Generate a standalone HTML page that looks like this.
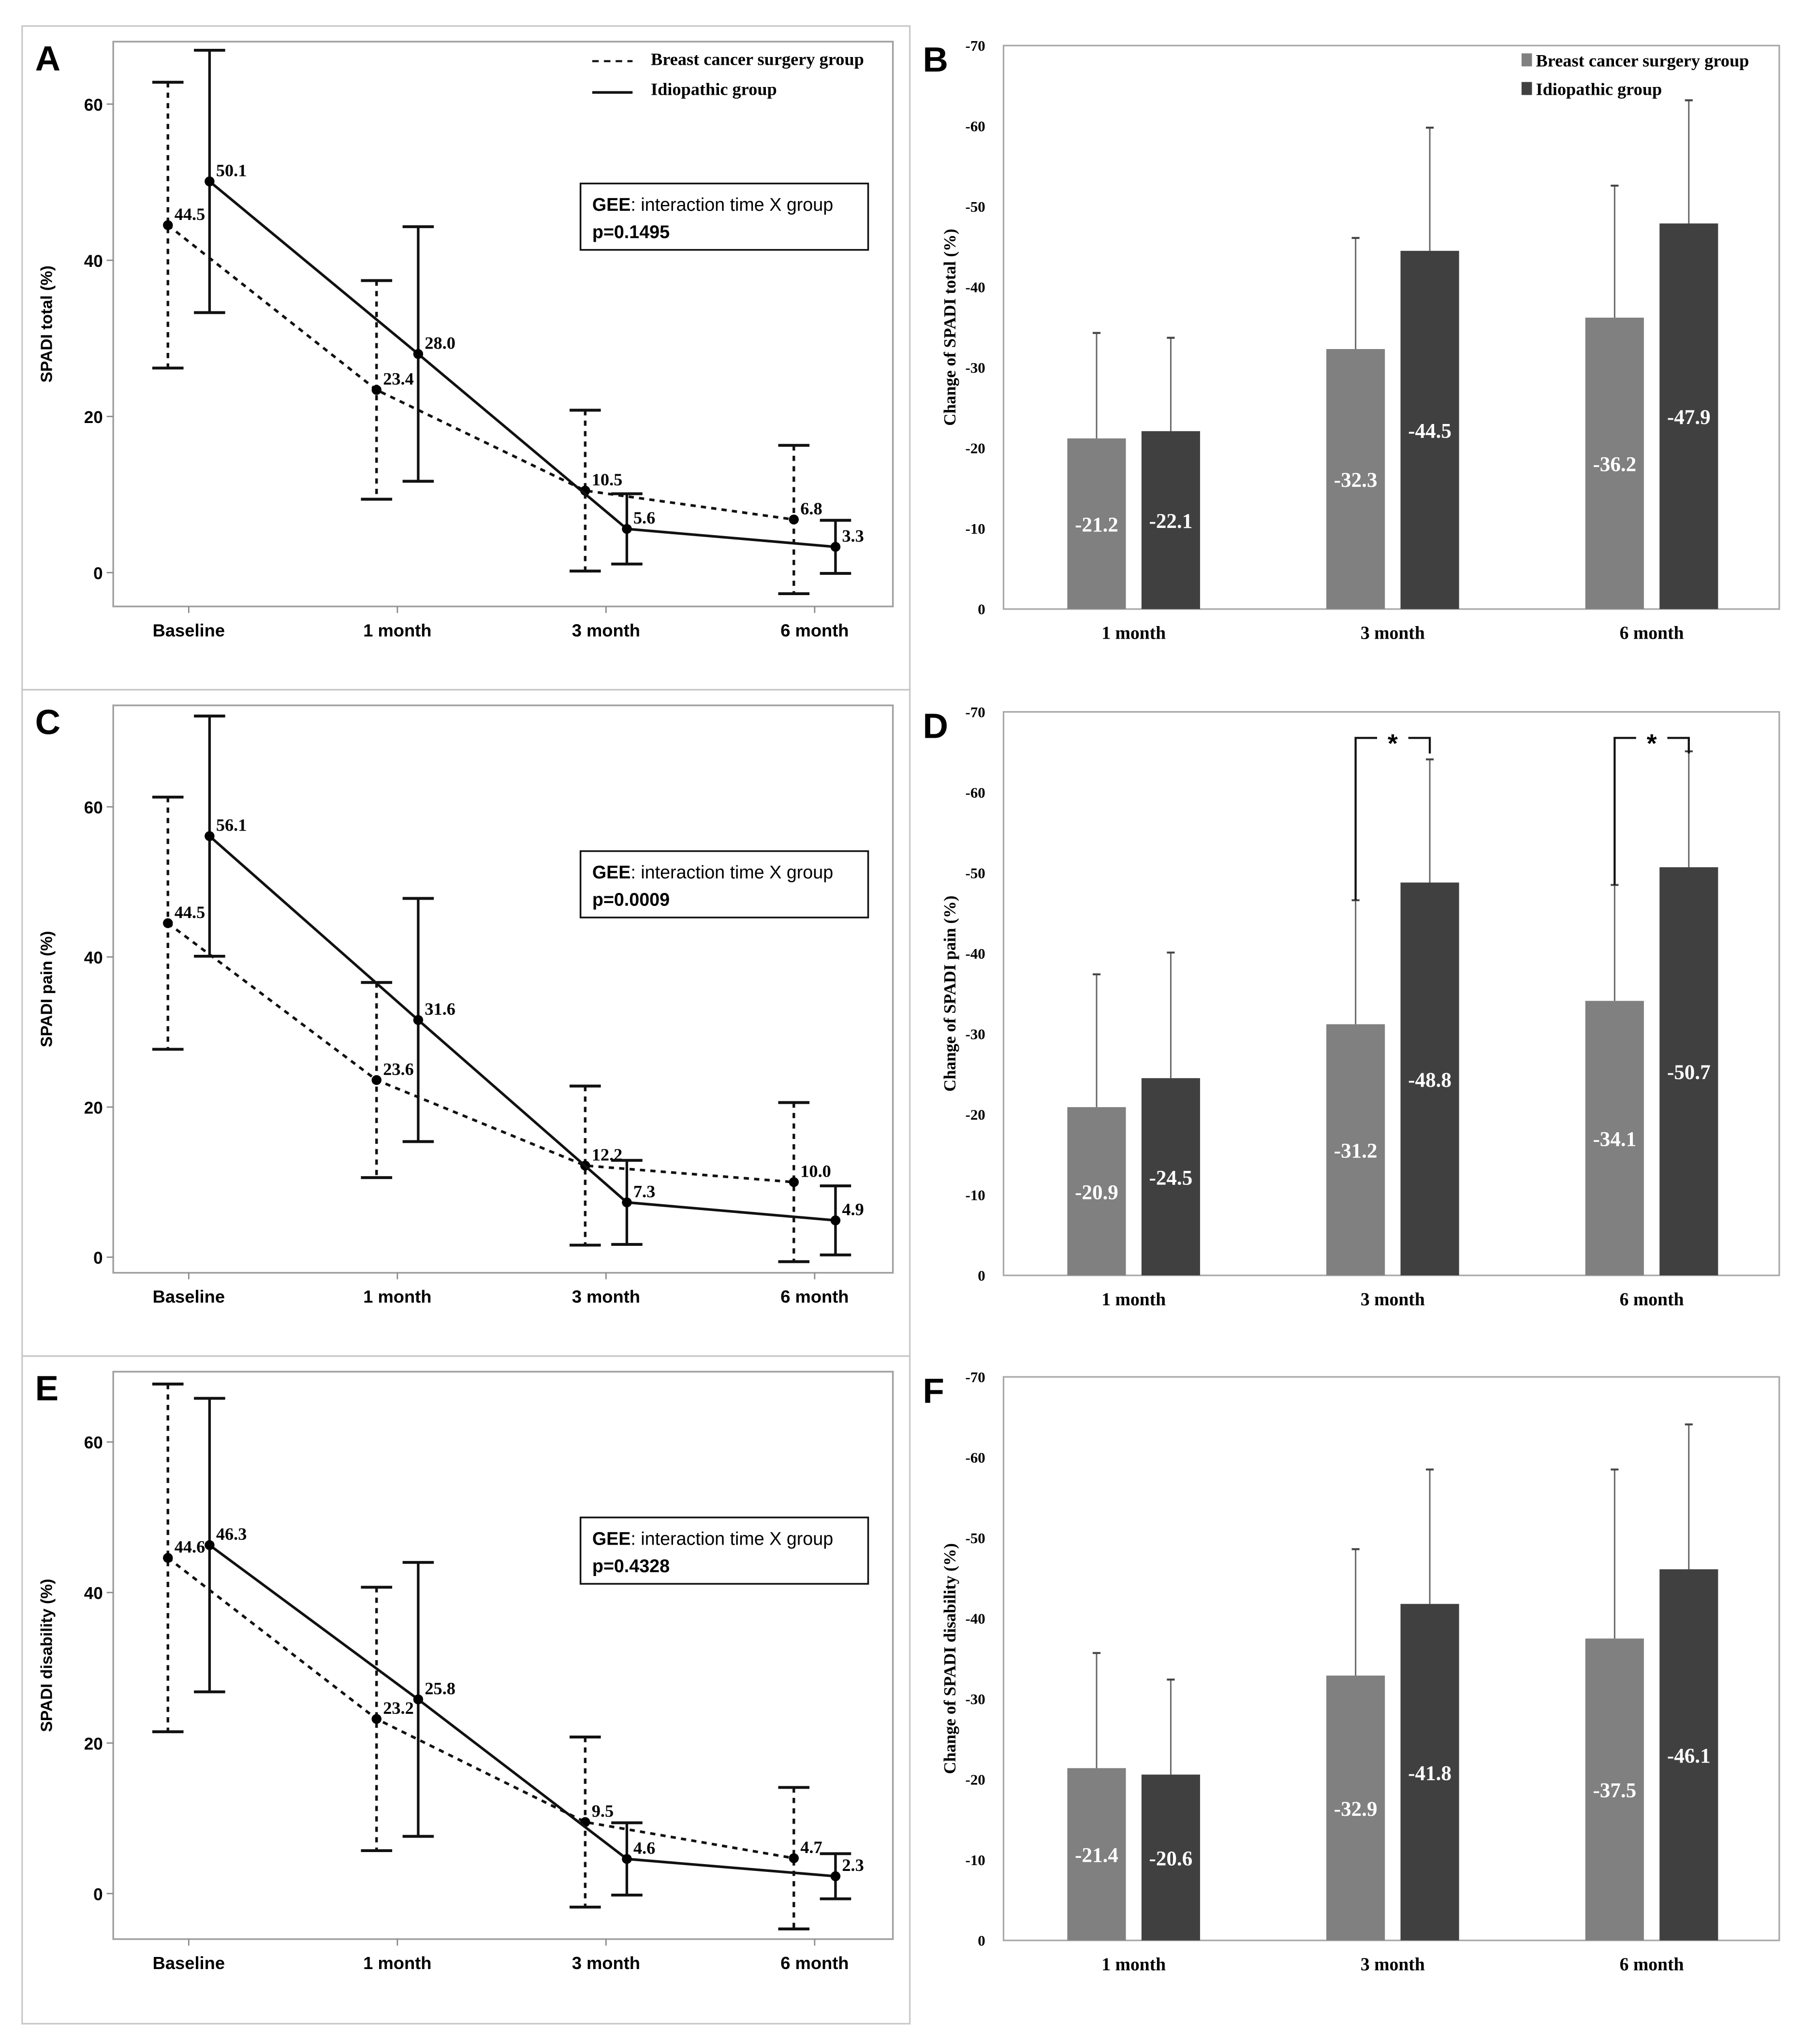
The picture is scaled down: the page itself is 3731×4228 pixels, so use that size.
<!DOCTYPE html>
<html><head><meta charset="utf-8"><style>
html,body{margin:0;padding:0;background:#fff;}
svg{display:block;}
</style></head><body>
<svg id="fig" width="3731" height="4228" viewBox="0 0 1386 1570.6" preserveAspectRatio="none" xmlns="http://www.w3.org/2000/svg"></svg>
<script>
// ---------- data ----------
const lineCats = ["Baseline","1 month","3 month","6 month"];
const totalBreast = [44.5,23.4,10.5,6.8];
const totalIdio = [50.1,28.0,5.6,3.3];
const totalBreastSD = [18.3,14.0,10.3,9.5];
const totalIdioSD = [16.8,16.3,4.5,3.4];
const painBreast = [44.5,23.6,12.2,10.0];
const painIdio = [56.1,31.6,7.3,4.9];
const painBreastSD = [16.8,13.0,10.6,10.6];
const painIdioSD = [16.0,16.2,5.6,4.6];
const disBreast = [44.6,23.2,9.5,4.7];
const disIdio = [46.3,25.8,4.6,2.3];
const disBreastSD = [23.1,17.5,11.3,9.4];
const disIdioSD = [19.5,18.2,4.8,3.0];
const pValues = ["p=0.1495","p=0.0009","p=0.4328"];
const lineTicks = [0,20,40,60];

const barCats = ["1 month","3 month","6 month"];
const chgTotalBreast = [-21.2,-32.3,-36.2];
const chgTotalIdio = [-22.1,-44.5,-47.9];
const chgTotalBreastErr = [-34.3,-46.1,-52.6];
const chgTotalIdioErr = [-33.7,-59.8,-63.2];
const chgPainBreast = [-20.9,-31.2,-34.1];
const chgPainIdio = [-24.5,-48.8,-50.7];
const chgPainBreastErr = [-37.4,-46.6,-48.5];
const chgPainIdioErr = [-40.1,-64.1,-65.1];
const chgDisBreast = [-21.4,-32.9,-37.5];
const chgDisIdio = [-20.6,-41.8,-46.1];
const chgDisBreastErr = [-35.7,-48.6,-58.5];
const chgDisIdioErr = [-32.4,-58.5,-64.1];
const barTicks = [0,-10,-20,-30,-40,-50,-60,-70];

// ---------- helpers ----------
const NS="http://www.w3.org/2000/svg";
const svg=document.getElementById('fig');
function el(tag,attrs,parent,text){
  const e=document.createElementNS(NS,tag);
  for(const k in attrs)e.setAttribute(k,attrs[k]);
  if(text!==undefined)e.textContent=text;
  (parent||svg).appendChild(e);return e;
}
const SERIF='"Liberation Serif", serif';
const SANS='"Liberation Sans", sans-serif';

// ---------- line panels ----------
function linePanel(o){
  const g=el('g',{});
  
  
  const fr=el('rect',{x:17,y:o.oy,width:682,height:o.oh,fill:'none',stroke:'#c8c8c8','stroke-width':1.2},g);
  
  const L=87,R=686,T=o.top,B=o.bottom;
  const pr=el('rect',{x:L,y:T,width:R-L,height:B-T,fill:'none',stroke:'#a0a0a0','stroke-width':1.3},g);
  
  const y=v=>o.y0-v*o.k;
  const xc=i=>145+i*160.3;
  const lt=el('text',{x:27,y:T+22,'font-family':SANS,'font-weight':'bold','font-size':27},g,o.letter);
  
  lineTicks.forEach(t=>{
    el('line',{x1:L-5,x2:L,y1:y(t),y2:y(t),stroke:'#888'},g);
    const tx=el('text',{x:L-8,y:y(t)+5,'text-anchor':'end','font-family':SANS,'font-weight':'bold','font-size':13},g,t);
    
  });
  lineCats.forEach((c,i)=>{
    el('line',{x1:xc(i),x2:xc(i),y1:B,y2:B+5,stroke:'#888'},g);
    const tx=el('text',{x:xc(i),y:B+23,'text-anchor':'middle','font-family':SANS,'font-weight':'bold','font-size':13.5},g,c);
    
  });
  const yt=el('text',{transform:`translate(40,${(T+B)/2}) rotate(-90)`,'text-anchor':'middle','font-family':SANS,'font-weight':'bold','font-size':12.5},g,o.ytitle);
  
  const series=[
    {vals:o.b,sd:o.bs,dx:-16,dash:'4,4',name:'breast'},
    {vals:o.i,sd:o.is,dx:16,dash:null,name:'idiopathic'}];
  series.forEach(s=>{
    const pts=s.vals.map((v,i)=>[xc(i)+s.dx,y(v)]);
    const pl=el('polyline',{points:pts.map(p=>p.join(',')).join(' '),fill:'none',stroke:'#111','stroke-width':2,...(s.dash?{'stroke-dasharray':s.dash}:{})},g);
    
    s.vals.forEach((v,i)=>{
      const x=xc(i)+s.dx;
      const eb=el('g',{},g);
      
      el('line',{x1:x,x2:x,y1:y(v+s.sd[i]),y2:y(v-s.sd[i]),stroke:'#111','stroke-width':2,...(s.dash?{'stroke-dasharray':s.dash}:{})},eb);
      el('line',{x1:x-12,x2:x+12,y1:y(v+s.sd[i]),y2:y(v+s.sd[i]),stroke:'#111','stroke-width':2.2},eb);
      el('line',{x1:x-12,x2:x+12,y1:y(v-s.sd[i]),y2:y(v-s.sd[i]),stroke:'#111','stroke-width':2.2},eb);
      const pt=el('circle',{cx:x,cy:y(v),r:3.8,fill:'#000'},g);
      
      const lb=el('text',{x:x+5,y:y(v)-4,'font-family':SERIF,'font-weight':'bold','font-size':13.5},g,v.toFixed(1));
      
    });
  });
  const gb=el('g',{},g);
  
  el('rect',{x:446,y:o.boxY,width:221,height:51,fill:'#fff',stroke:'#111','stroke-width':1.3},gb);
  const t1=el('text',{x:455,y:o.boxY+21,'font-family':SANS,'font-size':14},gb);
  el('tspan',{'font-weight':'bold'},t1,'GEE');
  el('tspan',{},t1,': interaction time X group');
  el('text',{x:455,y:o.boxY+42,'font-family':SANS,'font-size':14,'font-weight':'bold'},gb,o.p);
  if(o.legend){
    const lg=el('g',{},g);
    
    el('line',{x1:455,x2:486,y1:47,y2:47,stroke:'#111','stroke-width':1.6,'stroke-dasharray':'5,4'},lg);
    el('text',{x:500,y:50,'font-family':SERIF,'font-weight':'bold','font-size':13.5},lg,'Breast cancer surgery group');
    el('line',{x1:455,x2:486,y1:71,y2:71,stroke:'#111','stroke-width':2},lg);
    el('text',{x:500,y:73,'font-family':SERIF,'font-weight':'bold','font-size':13.5},lg,'Idiopathic group');
  }
}
linePanel({name:'panel-a-spadi-total',letter:'A',oy:20,oh:510,top:32,bottom:466,y0:440,k:6.0,ytitle:'SPADI total (%)',b:totalBreast,i:totalIdio,bs:totalBreastSD,is:totalIdioSD,boxY:141,p:pValues[0],legend:true});
linePanel({name:'panel-c-spadi-pain',letter:'C',oy:530,oh:512,top:542,bottom:978,y0:966,k:5.767,ytitle:'SPADI pain (%)',b:painBreast,i:painIdio,bs:painBreastSD,is:painIdioSD,boxY:654,p:pValues[1]});
linePanel({name:'panel-e-spadi-disability',letter:'E',oy:1042,oh:513,top:1054,bottom:1490,y0:1455,k:5.783,ytitle:'SPADI disability (%)',b:disBreast,i:disIdio,bs:disBreastSD,is:disIdioSD,boxY:1166,p:pValues[2]});

// ---------- bar panels ----------
function barPanel(o){
  const g=el('g',{});
  
  
  const L=771,R=1367,T=o.top,B=o.top+433;
  const y=v=>B+(v/70)*(B-T);
  const xc=i=>871+i*199;
  const pr=el('rect',{x:L,y:T,width:R-L,height:B-T,fill:'none',stroke:'#a8a8a8','stroke-width':1.2},g);
  
  const lt=el('text',{x:709,y:T+20,'font-family':SANS,'font-weight':'bold','font-size':27},g,o.letter);
  
  barTicks.forEach(t=>{
    const tx=el('text',{x:757,y:y(t)+4,'text-anchor':'end','font-family':SERIF,'font-weight':'bold','font-size':11.5},g,t);
    
  });
  const yt=el('text',{transform:`translate(734,${(T+B)/2}) rotate(-90)`,'text-anchor':'middle','font-family':SERIF,'font-weight':'bold','font-size':13},g,o.ytitle);
  
  barCats.forEach((c,i)=>{
    const tx=el('text',{x:xc(i),y:B+23,'text-anchor':'middle','font-family':SERIF,'font-weight':'bold','font-size':14},g,c);
    
  });
  const series=[{v:o.b,e:o.be,dx:-28.5,fill:'#808080',name:'breast'},{v:o.i,e:o.ie,dx:28.5,fill:'#404040',name:'idiopathic'}];
  series.forEach(s=>{
    s.v.forEach((v,i)=>{
      const cx=xc(i)+s.dx;
      const eb=el('g',{},g);
      
      el('line',{x1:cx,x2:cx,y1:y(v),y2:y(s.e[i]),stroke:'#666','stroke-width':1.1},eb);
      el('line',{x1:cx-3,x2:cx+3,y1:y(s.e[i]),y2:y(s.e[i]),stroke:'#444','stroke-width':1.5},eb);
      const r=el('rect',{x:cx-22.5,y:y(v),width:45,height:B-y(v),fill:s.fill},g);
      
      
      const lb=el('text',{x:cx,y:(y(v)+B)/2+6,'text-anchor':'middle','font-family':SERIF,'font-weight':'bold','font-size':16,fill:'#fff'},g,v.toFixed(1));
      
    });
  });
  if(o.legend){
    const lg=el('g',{},g);
    
    el('rect',{x:1169,y:41,width:8,height:10,fill:'#808080'},lg);
    el('text',{x:1180,y:51,'font-family':SERIF,'font-weight':'bold','font-size':13.5},lg,'Breast cancer surgery group');
    el('rect',{x:1169,y:63,width:8,height:10,fill:'#404040'},lg);
    el('text',{x:1180,y:73,'font-family':SERIF,'font-weight':'bold','font-size':13.5},lg,'Idiopathic group');
  }
  if(o.sig){
    o.sig.forEach(i=>{
      const sg=el('g',{},g);
      
      const x1=xc(i)-28.5,x2=xc(i)+28.5,yb=T+20;
      el('polyline',{points:`${x1},${y(o.be[i])} ${x1},${yb} ${xc(i)-12},${yb}`,fill:'none',stroke:'#111','stroke-width':1.6},sg);
      el('polyline',{points:`${xc(i)+12},${yb} ${x2},${yb} ${x2},${yb+12}`,fill:'none',stroke:'#111','stroke-width':1.6},sg);
      el('text',{x:xc(i),y:yb+11,'text-anchor':'middle','font-family':SANS,'font-weight':'bold','font-size':20},sg,'*');
    });
  }
}
barPanel({name:'panel-b-change-total',letter:'B',top:35,ytitle:'Change of SPADI total (%)',b:chgTotalBreast,i:chgTotalIdio,be:chgTotalBreastErr,ie:chgTotalIdioErr,legend:true});
barPanel({name:'panel-d-change-pain',letter:'D',top:547,ytitle:'Change of SPADI pain (%)',b:chgPainBreast,i:chgPainIdio,be:chgPainBreastErr,ie:chgPainIdioErr,sig:[1,2]});
barPanel({name:'panel-f-change-disability',letter:'F',top:1058,ytitle:'Change of SPADI disability (%)',b:chgDisBreast,i:chgDisIdio,be:chgDisBreastErr,ie:chgDisIdioErr});
</script>
</body></html>
